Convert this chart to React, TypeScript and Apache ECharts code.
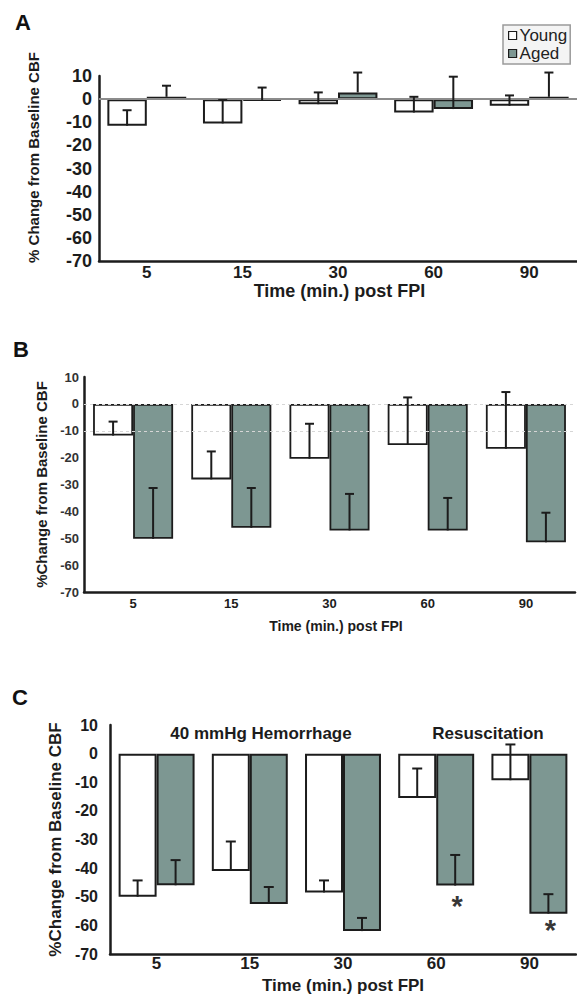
import React, { useEffect, useRef } from 'react';
import * as echarts from 'echarts';

// ---------- data ----------
const categories = ['5', '15', '30', '60', '90'];
const yTicks = { min: -70, max: 10, interval: 10 };

// Panel A
const aYoung = [-11.5, -10.5, -2.2, -5.8, -2.9];
const aYoungErr = [-4.8, -0.4, 2.9, 1.0, 1.6];
const aAged = [1.0, -0.7, 2.9, -4.3, 1.0];
const aAgedErr = [5.8, 5.0, 11.5, 9.7, 11.5];

// Panel B
const bYoung = [-11.8, -28.1, -20.4, -15.3, -16.7];
const bYoungErr = [-6.6, -17.7, -7.4, 2.4, 4.4];
const bAged = [-50.2, -46.1, -47.1, -47.1, -51.5];
const bAgedErr = [-31.3, -31.3, -33.5, -35.0, -40.5];

// Panel C
const cYoung = [-50.0, -41.0, -48.5, -15.5, -9.3];
const cYoungErr = [-44.3, -30.7, -44.3, -5.2, 3.2];
const cAged = [-46.0, -52.5, -62.0, -46.1, -55.9];
const cAgedErr = [-37.2, -46.6, -57.4, -35.4, -49.1];
const cStars: (number | string)[] = ['-', '-', '-', -51.5, -60];

const seriesNames = ['Young', 'Aged'];
const panelLetters = ['A', 'B', 'C'];
const cNotes = ['40 mmHg Hemorrhage', 'Resuscitation'];
const xTitle = 'Time (min.) post FPI';
const yTitleA = '% Change from Baseline CBF';
const yTitleBC = '%Change from Baseline CBF';

// ---------- style ----------
const FONT = "'Liberation Sans', Arial, Helvetica, sans-serif";
const INK = '#1c1c1c';
const AGED_FILL = '#7d9792';

const panels = [
  { young: aYoung, youngErr: aYoungErr, aged: aAged, agedErr: aAgedErr, gap: 0.175, grid: { left: 99, top: 76, width: 485, height: 185 } },
  { young: bYoung, youngErr: bYoungErr, aged: bAged, agedErr: bAgedErr, gap: 0.185, grid: { left: 84, top: 377, width: 491, height: 215 } },
  { young: cYoung, youngErr: cYoungErr, aged: cAged, agedErr: cAgedErr, gap: 0.185, grid: { left: 110, top: 725, width: 466, height: 229 } },
];

function errSeries(idx: number, means: number[], tops: number[], side: number, gap: number, cap: number) {
  return {
    type: 'custom',
    xAxisIndex: idx,
    yAxisIndex: idx,
    silent: true,
    z: 5,
    data: means.map((m, i) => [i, m, tops[i]]),
    encode: { x: 0, y: [1, 2] },
    renderItem: (params: any, api: any) => {
      const i = api.value(0);
      const base = api.coord([i, api.value(1)]);
      const top = api.coord([i, api.value(2)]);
      const band = api.size([1, 0])[0];
      const barW = (band * (1 - gap)) / 2;
      const x = base[0] + (side * barW) / 2;
      const st = { stroke: INK, lineWidth: 2 };
      return {
        type: 'group',
        children: [
          { type: 'line', shape: { x1: x, y1: base[1], x2: x, y2: top[1] }, style: st },
          { type: 'line', shape: { x1: x - cap, y1: top[1], x2: x + cap, y2: top[1] }, style: st },
        ],
      };
    },
  };
}

function buildOption() {
  const tickFont = [18, 13, 16];
  const tickMargin = [7, 5, 12];
  const xFont = [17, 13, 17];
  const xMargin = [3, 5, 1];
  const xTitleFont = [18, 14, 17];
  const xTitleGap = [21, 27, 23];
  const yTitleFont = [15, 15, 17];
  const yTitleGap = [58, 33, 46];
  const yTitlePad = [[0, 0, 0, 22], [0, 0, 0, 0], [0, 0, 0, 0]];
  const xTitlePad = [[0, 0, 0, 3], [0, 0, 0, 13], [0, 0, 0, 0]];
  const caps = [4.5, 4.5, 5];

  const grids = panels.map((p) => ({ ...p.grid, containLabel: false }));
  const xAxes = panels.map((p, k) => ({
    type: 'category',
    gridIndex: k,
    data: categories,
    name: xTitle,
    nameLocation: 'middle',
    nameGap: xTitleGap[k],
    nameTextStyle: { fontSize: xTitleFont[k], fontWeight: 'bold', color: INK, fontFamily: FONT, padding: xTitlePad[k] },
    axisLine: { onZero: false, lineStyle: { color: INK, width: 2.5 } },
    axisTick: { show: false },
    axisLabel: { fontSize: xFont[k], fontWeight: 'bold', color: INK, fontFamily: FONT, margin: xMargin[k] },
    splitLine: { show: false },
  }));
  const yAxes = panels.map((p, k) => ({
    type: 'value',
    gridIndex: k,
    min: yTicks.min,
    max: yTicks.max,
    interval: yTicks.interval,
    name: k === 0 ? yTitleA : yTitleBC,
    nameLocation: 'middle',
    nameGap: yTitleGap[k],
    nameTextStyle: { fontSize: yTitleFont[k], fontWeight: 'bold', color: INK, fontFamily: FONT, padding: yTitlePad[k] },
    axisLine: { show: true, lineStyle: { color: INK, width: 2.5 } },
    axisTick: { show: false },
    axisLabel: { fontSize: tickFont[k], fontWeight: 'bold', color: k === 1 ? '#333' : INK, fontFamily: FONT, margin: tickMargin[k] },
    splitLine: { show: false },
  }));

  const series: any[] = [];
  panels.forEach((p, k) => {
    const bw = k === 1 ? 1.8 : 2;
    series.push({
      type: 'bar', name: seriesNames[0], data: p.young, xAxisIndex: k, yAxisIndex: k,
      barGap: '0%', barCategoryGap: `${p.gap * 100}%`, silent: true, z: 2,
      itemStyle: { color: '#ffffff', borderColor: INK, borderWidth: bw },
    });
    series.push({
      type: 'bar', name: seriesNames[1], data: p.aged, xAxisIndex: k, yAxisIndex: k,
      barGap: '0%', barCategoryGap: `${p.gap * 100}%`, silent: true, z: 2,
      itemStyle: { color: AGED_FILL, borderColor: INK, borderWidth: bw },
    });
    series.push(errSeries(k, p.young, p.youngErr, -1, p.gap, caps[k]));
    series.push(errSeries(k, p.aged, p.agedErr, 1, p.gap, caps[k]));
  });

  // Panel A zero line
  series.push({
    type: 'line', data: [], xAxisIndex: 0, yAxisIndex: 0, z: 1, silent: true,
    markLine: {
      silent: true, symbol: ['none', 'none'], label: { show: false },
      lineStyle: { color: '#8c8c8c', width: 2, type: 'solid' },
      data: [{ yAxis: 0 }],
    },
  });
  // Panel B faint guide lines
  series.push({
    type: 'line', data: [], xAxisIndex: 1, yAxisIndex: 1, z: 1, silent: true,
    markLine: {
      silent: true, symbol: ['none', 'none'], label: { show: false },
      lineStyle: { color: '#d6d6d6', width: 1, type: [3, 3] },
      data: [{ yAxis: 0 }, { yAxis: -10 }],
    },
  });
  // Panel C asterisks
  series.push({
    type: 'scatter', data: cStars, xAxisIndex: 2, yAxisIndex: 2, z: 6, silent: true,
    symbol: 'circle', symbolSize: 2, itemStyle: { color: 'rgba(0,0,0,0)' },
    label: {
      show: true, formatter: '*', position: 'inside', offset: [21, 5],
      fontSize: 29, fontWeight: 'bold', color: '#000', fontFamily: FONT,
      textBorderWidth: 0, textBorderColor: 'transparent',
    },
  });

  const letterPos = [[23, 22], [21, 349], [20, 697]];
  const notePos = [[261, 733], [488, 733]];
  const graphic: any[] = [
    ...panelLetters.map((t, i) => ({
      type: 'text', x: letterPos[i][0], y: letterPos[i][1], silent: true,
      style: { text: t, fill: '#111', font: `bold 22px ${FONT}`, align: 'center', verticalAlign: 'middle' },
    })),
    ...cNotes.map((t, i) => ({
      type: 'text', x: notePos[i][0], y: notePos[i][1], silent: true,
      style: { text: t, fill: INK, font: `bold 17px ${FONT}`, align: 'center', verticalAlign: 'middle' },
    })),
  ];

  return {
    animation: false,
    backgroundColor: '#ffffff',
    textStyle: { fontFamily: FONT },
    legend: {
      data: seriesNames,
      orient: 'vertical',
      left: 503,
      top: 25,
      padding: [2, 3, 2, 5],
      itemGap: 1,
      itemWidth: 8,
      itemHeight: 8,
      icon: 'rect',
      selectedMode: false,
      backgroundColor: '#f4f4f4',
      borderColor: '#9a9a9a',
      borderWidth: 1.5,
      itemStyle: { borderColor: INK, borderWidth: 1.2 },
      textStyle: { fontSize: 17, color: '#222', fontFamily: FONT, padding: [0, 0, 0, -2] },
    },
    grid: grids,
    xAxis: xAxes,
    yAxis: yAxes,
    series,
    graphic,
  };
}

export default function App() {
  const ref = useRef<HTMLDivElement>(null);
  useEffect(() => {
    if (!ref.current) return;
    const chart = echarts.init(ref.current, null, { renderer: 'svg' });
    chart.setOption(buildOption() as any);
    return () => chart.dispose();
  }, []);
  return (
    <div
      ref={ref}
      style={{ position: 'absolute', left: 0, top: 0, width: 577, height: 998, background: '#fff' }}
    />
  );
}
